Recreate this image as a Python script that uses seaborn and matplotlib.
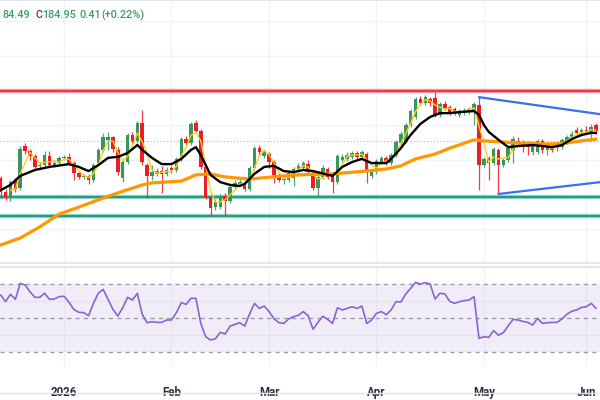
import numpy as np
import pandas as pd
import matplotlib
matplotlib.use("Agg")
import matplotlib.pyplot as plt
from matplotlib.lines import Line2D
import seaborn as sns

# ---------------- data ----------------
dates = pd.bdate_range("2025-12-15", periods=123)

opens = [
    183.48, 183.08, 182.93, 183.39, 183.19, 184.40, 184.26, 184.11, 183.83, 183.85,
    184.11, 183.85, 183.91, 184.06, 184.09, 183.91, 183.62, 183.51, 183.54, 183.42,
    183.91, 184.29, 184.58, 184.66, 184.29, 183.48, 183.94, 184.72, 184.55, 185.07,
    183.85, 183.54, 183.60, 183.68, 183.60, 183.77, 183.71, 184.03, 184.60, 184.49,
    185.07, 184.83, 183.80, 182.93, 182.64, 182.64, 182.96, 182.82, 183.22, 183.31,
    183.34, 183.16, 183.77, 184.34, 184.11, 184.17, 183.94, 183.57, 183.42, 183.42,
    183.48, 183.71, 183.77, 183.88, 183.65, 183.19, 183.51, 183.74, 183.51, 183.36,
    184.00, 184.03, 184.09, 184.20, 184.09, 184.17, 183.54, 183.68, 183.94, 184.06,
    183.91, 184.14, 184.49, 184.55, 185.01, 185.24, 185.76, 185.64, 185.76, 185.79,
    185.30, 185.61, 185.53, 185.47, 185.30, 185.35, 185.38, 185.38, 185.58, 183.85,
    184.06, 183.91, 184.29, 183.85, 184.00, 184.29, 184.55, 184.52, 184.49, 184.23,
    184.23, 184.55, 184.29, 184.40, 184.34, 184.37, 184.52, 184.63, 184.86, 184.78,
    184.86, 184.81, 185.01,
]
highs = [
    183.54, 183.16, 183.42, 183.48, 184.40, 184.49, 184.32, 184.17, 183.94, 184.26,
    184.26, 184.00, 184.11, 184.14, 184.20, 183.97, 183.68, 183.60, 183.60, 183.91,
    184.34, 184.78, 184.81, 184.69, 184.37, 184.00, 184.78, 184.81, 185.12, 185.44,
    183.91, 183.85, 183.77, 183.83, 183.80, 183.83, 184.09, 184.66, 184.69, 185.09,
    185.15, 184.89, 183.85, 182.99, 182.87, 183.02, 183.05, 183.28, 183.42, 183.45,
    183.39, 183.83, 184.40, 184.43, 184.32, 184.23, 184.00, 183.62, 183.51, 183.68,
    183.80, 183.91, 183.97, 184.00, 183.71, 183.57, 183.85, 183.80, 183.57, 184.17,
    184.17, 184.23, 184.26, 184.26, 184.29, 184.23, 183.74, 184.03, 184.11, 184.11,
    184.20, 184.58, 184.83, 185.07, 185.47, 185.81, 185.84, 185.87, 185.81, 185.96,
    185.67, 185.70, 185.58, 185.53, 185.47, 185.50, 185.53, 185.67, 185.81, 184.09,
    184.11, 184.37, 184.34, 184.06, 184.40, 184.69, 184.66, 184.58, 184.55, 184.52,
    184.60, 184.60, 184.46, 184.49, 184.49, 184.63, 184.72, 184.83, 184.95, 184.92,
    184.98, 185.04, 185.07,
]
lows = [
    182.90, 182.85, 182.82, 183.08, 183.13, 184.17, 184.00, 183.71, 183.74, 183.80,
    183.80, 183.80, 183.85, 184.00, 183.85, 183.42, 183.45, 183.45, 183.31, 183.36,
    183.85, 184.23, 184.29, 184.23, 183.57, 183.36, 183.88, 184.49, 184.49, 183.85,
    182.90, 183.42, 183.54, 183.05, 183.54, 183.62, 183.65, 183.97, 184.40, 184.43,
    184.81, 183.74, 182.87, 182.41, 182.56, 182.59, 182.41, 182.76, 183.16, 183.25,
    183.11, 183.11, 183.71, 184.14, 184.06, 183.77, 183.34, 183.36, 183.31, 183.36,
    183.25, 183.65, 183.71, 183.60, 183.13, 182.93, 183.45, 183.45, 183.05, 183.31,
    183.94, 183.97, 184.03, 184.03, 184.03, 183.34, 183.48, 183.60, 183.88, 183.85,
    183.85, 184.09, 184.43, 184.49, 184.95, 185.18, 185.58, 185.58, 185.55, 185.24,
    185.24, 185.44, 185.30, 185.30, 185.24, 185.30, 185.32, 185.01, 183.13, 183.80,
    183.42, 183.85, 183.02, 183.80, 183.94, 183.91, 184.40, 184.23, 184.14, 184.14,
    184.17, 184.20, 184.14, 184.23, 184.26, 184.32, 184.46, 184.58, 184.72, 184.69,
    184.75, 184.55, 184.75,
]
closes = [
    183.08, 182.93, 183.36, 183.16, 184.32, 184.26, 184.11, 183.80, 183.85, 184.14,
    183.85, 183.91, 184.06, 184.09, 183.91, 183.62, 183.51, 183.54, 183.42, 183.85,
    184.29, 184.66, 184.66, 184.32, 183.65, 183.94, 184.72, 184.55, 185.07, 183.94,
    183.54, 183.65, 183.68, 183.60, 183.71, 183.71, 184.03, 184.60, 184.49, 185.04,
    184.83, 183.80, 182.93, 182.62, 182.79, 182.96, 182.82, 183.22, 183.34, 183.36,
    183.16, 183.77, 184.34, 184.23, 184.26, 183.94, 183.57, 183.42, 183.45, 183.62,
    183.74, 183.83, 183.91, 183.65, 183.19, 183.51, 183.77, 183.51, 183.36, 184.11,
    184.09, 184.14, 184.20, 184.09, 184.23, 183.65, 183.68, 183.97, 184.06, 183.91,
    184.14, 184.52, 184.75, 185.01, 185.41, 185.76, 185.64, 185.81, 185.64, 185.30,
    185.61, 185.50, 185.35, 185.35, 185.41, 185.44, 185.47, 185.61, 183.85, 184.03,
    183.91, 184.32, 183.85, 184.00, 184.34, 184.60, 184.49, 184.43, 184.37, 184.46,
    184.55, 184.29, 184.40, 184.29, 184.43, 184.58, 184.66, 184.75, 184.78, 184.86,
    184.81, 184.95, 184.83,
]

# fast moving average (black), read at candle positions
fast_ma_idx = [0, 2, 4, 7, 10, 14, 16, 18, 20, 22, 24, 26, 28, 29, 31, 33, 35, 37, 39, 40,
               41, 43, 45, 47, 49, 50, 52, 54, 56, 58, 60, 62, 64, 68, 70, 72, 74, 76, 79, 80,
               82, 84, 86, 88, 90, 92, 94, 97, 98, 99, 100, 102, 104, 106, 109, 113, 115, 117,
               119, 121, 122]
fast_ma_val = [183.13, 183.28, 183.54, 183.71, 183.80, 183.88, 183.80, 183.68, 183.85, 184.06,
               184.09, 184.20, 184.43, 184.29, 184.06, 183.88, 183.88, 184.03, 184.29, 184.37,
               184.14, 183.57, 183.36, 183.28, 183.25, 183.31, 183.60, 183.80, 183.83, 183.68,
               183.65, 183.71, 183.68, 183.54, 183.80, 183.94, 184.03, 183.91, 183.91, 184.03,
               184.34, 184.72, 185.04, 185.24, 185.35, 185.35, 185.38, 185.41, 185.30, 185.01,
               184.81, 184.58, 184.37, 184.40, 184.43, 184.37, 184.43, 184.60, 184.72, 184.78,
               184.78]

# slow moving average (orange)
slow_ma_idx = [0, 4, 8, 12, 16, 20, 24, 29, 31, 37, 40, 43, 46, 51, 58, 61, 68, 75, 79, 82,
               85, 89, 92, 97, 99, 106, 113, 116, 119, 122]
slow_ma_val = [181.55, 181.75, 182.07, 182.44, 182.64, 182.85, 183.05, 183.28, 183.34, 183.39,
               183.57, 183.60, 183.51, 183.45, 183.54, 183.57, 183.60, 183.68, 183.74, 183.83,
               184.03, 184.17, 184.34, 184.58, 184.55, 184.49, 184.46, 184.49, 184.55, 184.60]

rsi = [
    63.7, 59.7, 64.1, 61.1, 70.6, 69.6, 65.6, 62.3, 62.3, 64.7,
    61.1, 61.3, 62.7, 62.9, 59.3, 55.1, 53.4, 53.2, 51.4, 58.7,
    64.7, 67.0, 61.1, 55.1, 51.2, 56.1, 62.3, 60.7, 64.7, 52.2,
    47.2, 47.8, 47.4, 47.4, 48.8, 48.8, 53.2, 59.1, 58.1, 61.7,
    61.7, 46.8, 38.9, 36.9, 37.7, 41.5, 40.5, 45.2, 46.2, 47.2,
    45.2, 52.4, 58.7, 55.7, 57.1, 53.8, 49.6, 47.2, 46.8, 49.4,
    50.8, 51.6, 53.8, 51.4, 43.3, 47.4, 51.0, 49.2, 46.8, 56.1,
    54.8, 55.7, 56.7, 55.7, 57.1, 46.8, 48.8, 52.8, 53.8, 52.0,
    54.8, 59.7, 59.5, 64.3, 67.6, 71.2, 70.2, 71.0, 70.2, 61.3,
    64.7, 64.3, 59.9, 58.7, 59.7, 60.3, 60.7, 62.7, 37.9, 38.9,
    38.5, 42.5, 39.8, 41.3, 45.4, 49.2, 48.8, 48.0, 47.4, 45.8,
    49.8, 46.8, 47.2, 47.4, 47.4, 49.4, 52.2, 54.0, 54.8, 56.3,
    56.7, 58.7, 55.7,
]

resistance = 185.98
supports = [182.93, 182.38]
prev_close = 184.54
tri_upper_idx = [98, 122.8]
tri_upper_val = [185.81, 185.32]
tri_lower_idx = [102, 122.8]
tri_lower_val = [183.02, 183.36]

# header pieces: (text, x pixel, colour key)
header = [("84.49", 2.5, "g"), ("C", 35.5, "k"), ("184.95", 42, "g"),
          ("0.41", 79.5, "g"), ("(+0.22%)", 101, "g")]

# ---------------- style ----------------
sns.set_theme(style="white")
plt.rcParams['font.family'] = ['Roboto', 'DejaVu Sans']

GREEN = "#36965c"
RED = "#ee1c25"
GRID = "#f0f3fa"
BORDER = "#e0e3eb"
TXT_GREEN = "#3d9a6c"

fig = plt.figure(figsize=(6, 4), dpi=100)
ax = fig.add_axes([0, 1 - 263 / 400, 1, 263 / 400])
ax_rsi = fig.add_axes([0, 33 / 400, 1, 100 / 400])

n = len(closes)
idx = np.arange(n)
o = np.array(opens)
c = np.array(closes)
up = c >= o
colors = np.where(up, GREEN, RED)

# month ticks from the dates
month_start = ~pd.Series(dates.to_period("M")).duplicated().to_numpy()
month_start[0] = False
tick_pos = idx[month_start]
tick_lab = ["2026" if d.month == 1 else d.strftime("%b") for d in dates[month_start]]

xlim = (-0.14, 122.8)

# ---------------- price pane ----------------
ax.set_xlim(*xlim)
ax.set_ylim(181.03, 188.61)
ax.set_yticks(np.arange(182, 189))
ax.set_xticks(tick_pos)
ax.grid(True, color=GRID, linewidth=1)
ax.tick_params(left=False, bottom=False, labelleft=False, labelbottom=False)
for s in ["left", "right"]:
    ax.spines[s].set_visible(False)
ax.spines["top"].set_color(BORDER)
ax.spines["bottom"].set_color(BORDER)

ax.axhline(resistance, color="#f7a1ab", linewidth=3.2, zorder=2)
ax.axhline(resistance, color="#ea3a4e", linewidth=1.6, zorder=2)
for lvl in supports:
    ax.axhline(lvl, color="#a9dccf", linewidth=3.2, zorder=2)
    ax.axhline(lvl, color="#1f9d85", linewidth=1.7, zorder=2)
ax.axhline(prev_close, color="#9fb9b2", linewidth=0.8, linestyle=(0, (1, 2)), zorder=2)

ax.vlines(idx, lows, highs, colors=colors, linewidth=0.9, alpha=0.85, zorder=3)
ax.bar(idx, np.maximum(np.abs(c - o), 0.015), bottom=np.minimum(o, c), width=0.72,
       color=colors, linewidth=0, zorder=4)

fast3 = pd.Series(closes).rolling(3).mean()
sns.lineplot(x=idx, y=fast3, ax=ax, color="#f6d31c", linewidth=1.0, zorder=5)
sns.lineplot(x=slow_ma_idx, y=slow_ma_val, ax=ax, color="#ff9800", linewidth=2.3, zorder=5)
sns.lineplot(x=fast_ma_idx, y=fast_ma_val, ax=ax, color="black", linewidth=1.7, zorder=6)

sns.lineplot(x=tri_upper_idx, y=tri_upper_val, ax=ax, color="#3b6ef5", linewidth=1.6, zorder=6)
sns.lineplot(x=tri_lower_idx, y=tri_lower_val, ax=ax, color="#3b6ef5", linewidth=1.6, zorder=6)
ax.set_xlabel("")
ax.set_ylabel("")

# header values
hy = 1 - 15 / 400
for txt, px, key in header:
    fig.text(px / 600, hy, txt, color=TXT_GREEN if key == "g" else "#434651",
             fontsize=7.8, va="center", fontweight="medium")

# ---------------- RSI pane ----------------
ax_rsi.set_xlim(*xlim)
ax_rsi.set_ylim(20.9, 80.3)
ax_rsi.axhspan(30, 70, color="#7e57c2", alpha=0.1, linewidth=0, zorder=1)
ax_rsi.set_yticks([40, 60])
ax_rsi.set_xticks(tick_pos)
ax_rsi.set_xticklabels(tick_lab)
ax_rsi.grid(True, color=GRID, linewidth=1)
for lvl in [70, 50, 30]:
    ax_rsi.axhline(lvl, color="#9b9ea6", linewidth=1, linestyle=(0, (3, 3)), zorder=2)
sns.lineplot(x=idx, y=rsi, ax=ax_rsi, color="#8a63d2", linewidth=1.2, zorder=3)
ax_rsi.tick_params(left=False, bottom=False, labelleft=False, labelsize=8.3,
                   labelcolor="#2a2e39", pad=8)
for lab in ax_rsi.get_xticklabels():
    lab.set_fontweight("bold")
for s in ["left", "right", "bottom"]:
    ax_rsi.spines[s].set_visible(False)
ax_rsi.spines["top"].set_color(BORDER)
ax_rsi.set_xlabel("")
ax_rsi.set_ylabel("")

fig.add_artist(Line2D([0, 1], [7 / 400, 7 / 400], color=BORDER, linewidth=1))

fig.savefig("out.png", dpi=100)
